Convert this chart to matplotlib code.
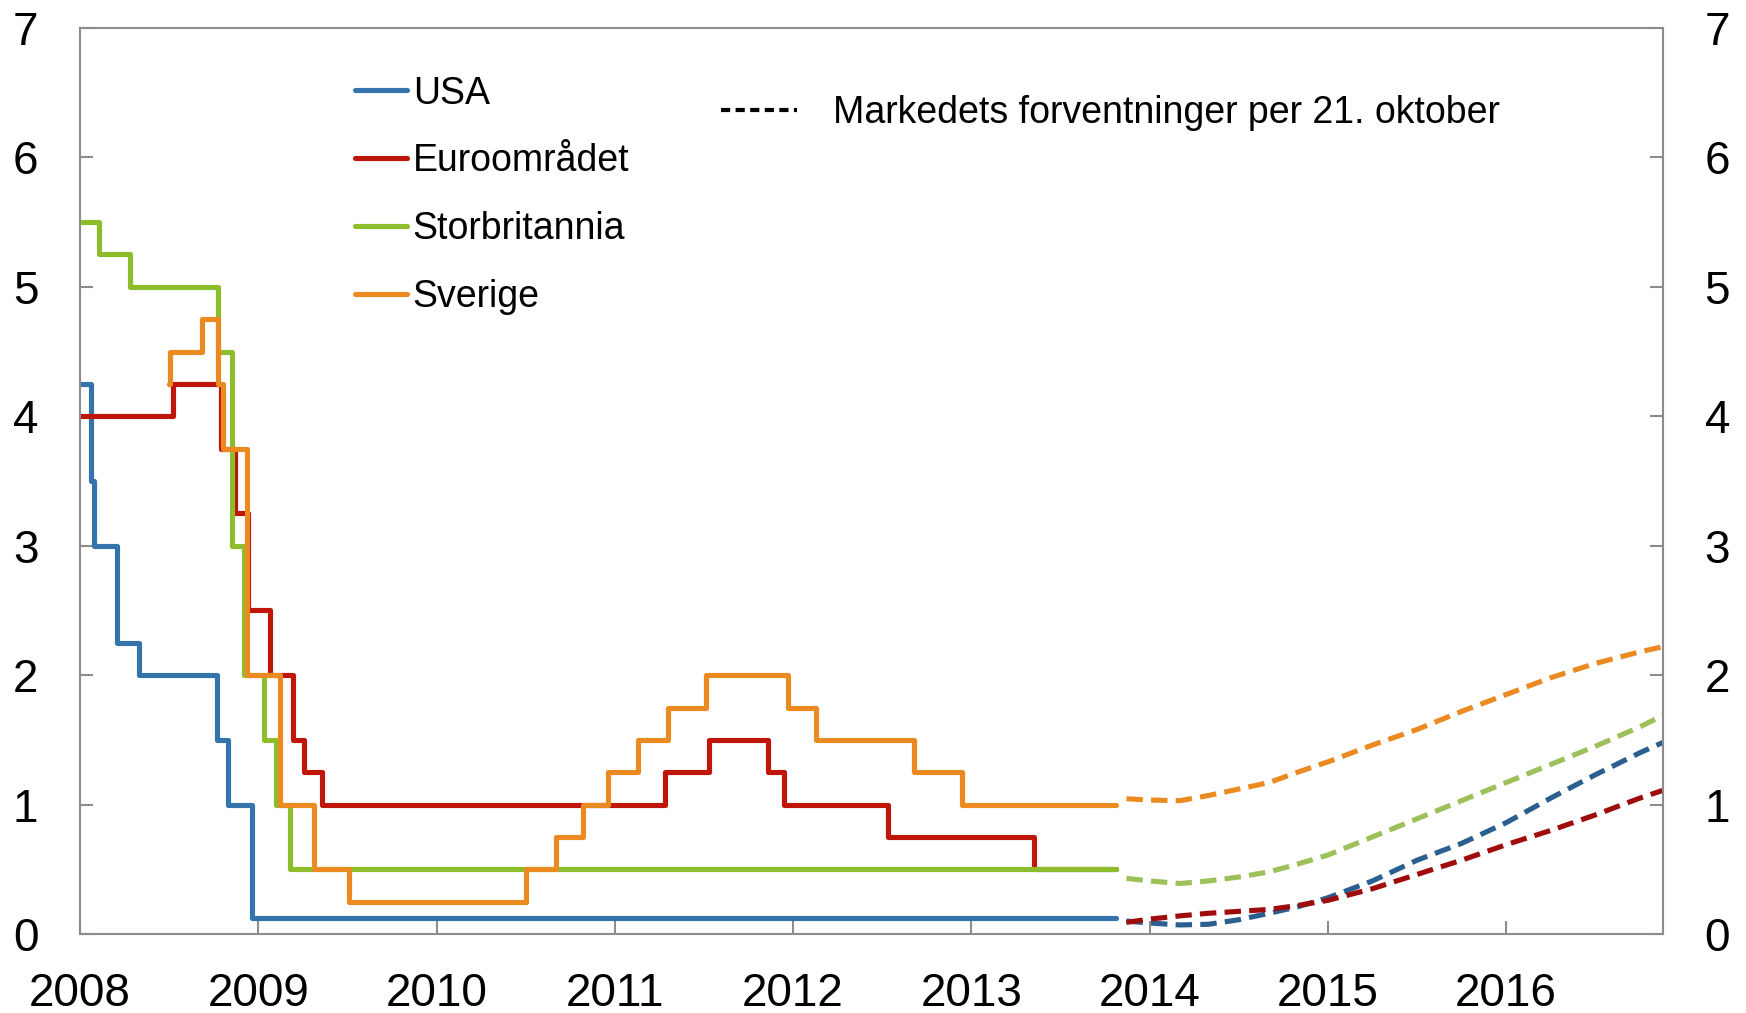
import matplotlib
matplotlib.use("Agg")
import matplotlib.pyplot as plt
from matplotlib.lines import Line2D

plt.rcParams['font.family'] = ['Liberation Sans', 'DejaVu Sans']

# Policy rates (step series), year as decimal
usa_t = [2008.0, 2008.06, 2008.08, 2008.21, 2008.33, 2008.77, 2008.83, 2008.965, 2013.81]
usa_v = [4.25, 3.5, 3.0, 2.25, 2.0, 1.5, 1.0, 0.125, 0.125]

euro_t = [2008.0, 2008.52, 2008.79, 2008.87, 2008.94, 2009.065, 2009.195, 2009.257, 2009.36,
          2011.28, 2011.53, 2011.86, 2011.95, 2012.53, 2013.35, 2013.81]
euro_v = [4.0, 4.25, 3.75, 3.25, 2.5, 2.0, 1.5, 1.25, 1.0,
          1.25, 1.5, 1.25, 1.0, 0.75, 0.5, 0.5]

uk_t = [2008.0, 2008.105, 2008.28, 2008.775, 2008.855, 2008.92, 2009.03, 2009.10, 2009.18, 2013.81]
uk_v = [5.5, 5.25, 5.0, 4.5, 3.0, 2.0, 1.5, 1.0, 0.5, 0.5]

swe_t = [2008.50, 2008.505, 2008.683, 2008.775, 2008.80, 2008.935, 2009.12, 2009.31, 2009.51,
         2010.50, 2010.67, 2010.82, 2010.96, 2011.13, 2011.30, 2011.51, 2011.97, 2012.13,
         2012.68, 2012.95, 2013.81]
swe_v = [4.25, 4.5, 4.75, 4.25, 3.75, 2.0, 1.0, 0.5, 0.25,
         0.5, 0.75, 1.0, 1.25, 1.5, 1.75, 2.0, 1.75, 1.5,
         1.25, 1.0, 1.0]

# Market expectations per 21 October
fc_t = [2013.87, 2014.0, 2014.17, 2014.33, 2014.5, 2014.67, 2014.83, 2015.0, 2015.25,
        2015.5, 2015.75, 2016.0, 2016.25, 2016.5, 2016.75, 2016.88]
usa_fc = [0.10, 0.085, 0.07, 0.075, 0.11, 0.16, 0.21, 0.28, 0.41, 0.57, 0.70, 0.86, 1.05, 1.23, 1.40, 1.48]
euro_fc = [0.09, 0.115, 0.14, 0.16, 0.175, 0.19, 0.22, 0.26, 0.35, 0.46, 0.57, 0.69, 0.80, 0.92, 1.05, 1.11]
uk_fc = [0.43, 0.41, 0.39, 0.41, 0.44, 0.48, 0.54, 0.61, 0.75, 0.89, 1.03, 1.17, 1.31, 1.45, 1.60, 1.69]
swe_fc = [1.045, 1.035, 1.03, 1.07, 1.12, 1.17, 1.25, 1.33, 1.46, 1.58, 1.72, 1.85, 1.98, 2.09, 2.18, 2.22]

years = list(range(2008, 2017))
labels = ['USA', 'Euroområdet', 'Storbritannia', 'Sverige']

c_solid = ['#3574AA', '#C0150A', '#8EBD2C', '#EB8A20']
c_dash = ['#2A5F8F', '#9E0C0C', '#9DC05A', '#EC8A22']
lw = 3.7
gray = '#8c8c8c'

fig = plt.figure(figsize=(17.46, 10.13), dpi=100)
ax = fig.add_axes([80 / 1746, 1 - 934 / 1013, 1583 / 1746, 906 / 1013])

steps = [(usa_t, usa_v), (euro_t, euro_v), (uk_t, uk_v), (swe_t, swe_v)]
fcs = [usa_fc, euro_fc, uk_fc, swe_fc]
for (t, v), fc, cs, cd in zip(steps, fcs, c_solid, c_dash):
    ax.plot(t, v, drawstyle='steps-post', color=cs, lw=lw, solid_joinstyle='round',
            solid_capstyle='round')
    ax.plot(fc_t, fc, color=cd, lw=lw, dashes=(3.2, 1.6))

ax.set_xlim(2008, 2016.88)
ax.set_ylim(0, 7)
ax.set_xticks(years)
ax.set_xticklabels([str(y) for y in years])
ax.set_yticks(range(0, 8))

for s in ax.spines.values():
    s.set_color(gray)
    s.set_linewidth(1.5)

ax.tick_params(axis='both', direction='in', color=gray, width=1.5, length=9.5,
               labelsize=33, pad=30)
ax.tick_params(axis='x', pad=27)
ax.tick_params(axis='y', right=True, labelright=True)

h1 = [Line2D([], [], color=c, lw=lw, solid_capstyle='round') for c in c_solid]
leg1 = ax.legend(h1, labels, loc='upper left', bbox_to_anchor=(0.164, 0.964),
                 frameon=False, fontsize=27, handlelength=1.39, handletextpad=0.16,
                 labelspacing=0.85, borderaxespad=0)
ax.add_artist(leg1)
h2 = [Line2D([], [], color='black', lw=3, dashes=(2.2, 1.3))]
ax.legend(h2, ['Markedets forventninger per 21. oktober'], loc='upper left',
          bbox_to_anchor=(0.3957, 0.943), frameon=False, fontsize=27,
          handlelength=2.02, handletextpad=0.95, borderaxespad=0)

fig.savefig('out.png', dpi=100)
